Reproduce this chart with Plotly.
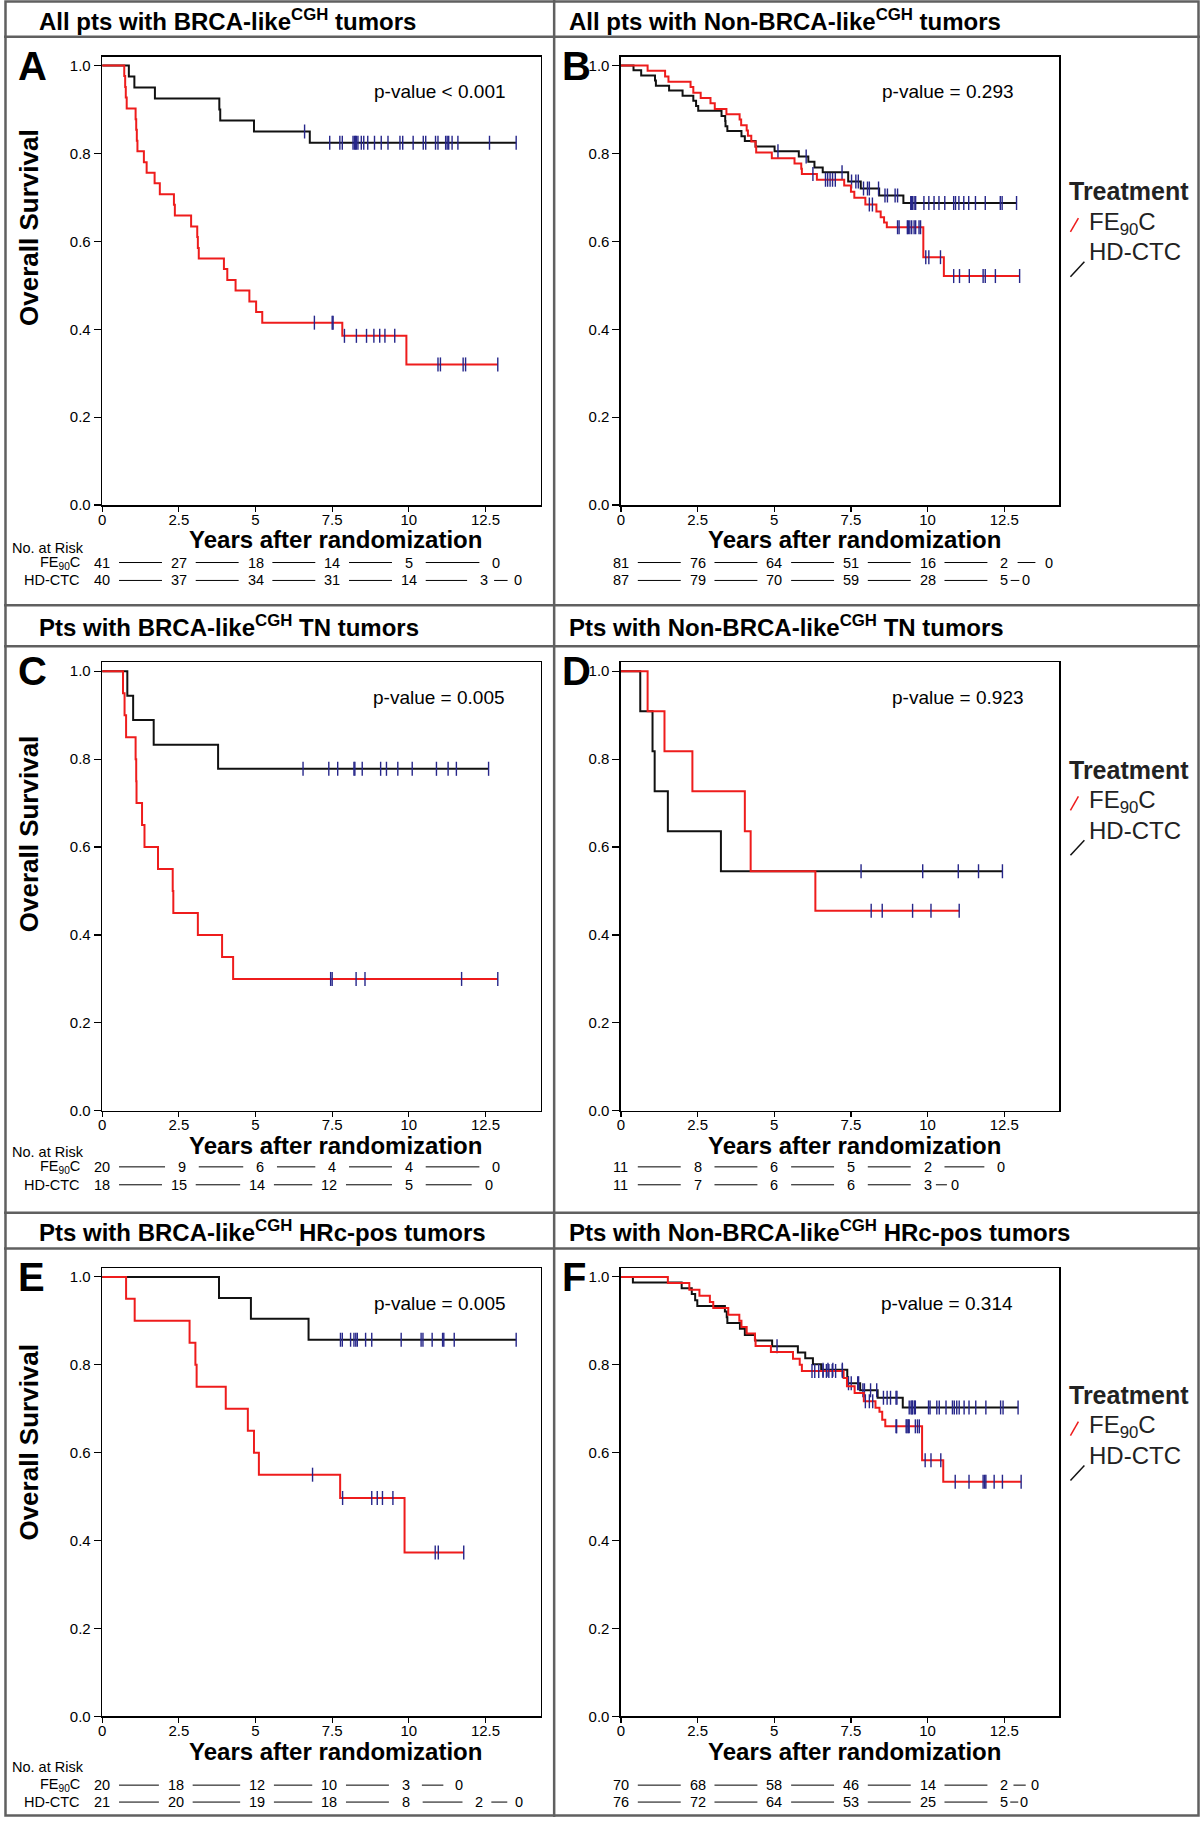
import plotly.graph_objects as go
from bisect import bisect_right

W, H = 1200, 1825
FONT = "Liberation Sans, Arial, Helvetica, sans-serif"
RED = "#ee1c1c"
BLACK = "#111111"
CENS = "#26268a"
FRAME = "#606060"

# ================= DATA =================
panel_letters = ["A", "B", "C", "D", "E", "F"]
panel_titles = [
    "All pts with BRCA-like<sup>CGH</sup> tumors",
    "All pts with Non-BRCA-like<sup>CGH</sup> tumors",
    "Pts with BRCA-like<sup>CGH</sup> TN tumors",
    "Pts with Non-BRCA-like<sup>CGH</sup> TN tumors",
    "Pts with BRCA-like<sup>CGH</sup> HRc-pos tumors",
    "Pts with Non-BRCA-like<sup>CGH</sup> HRc-pos tumors",
]
p_values = ["p-value < 0.001", "p-value = 0.293", "p-value = 0.005",
            "p-value = 0.923", "p-value = 0.005", "p-value = 0.314"]
p_value_x = [8.8, 8.45, 8.75, 8.77, 8.8, 8.42]

x_ticks = [0, 2.5, 5, 7.5, 10, 12.5]
x_ticktext = ["0", "2.5", "5", "7.5", "10", "12.5"]
y_ticks = [0, 0.2, 0.4, 0.6, 0.8, 1.0]
y_ticktext = ["0.0", "0.2", "0.4", "0.6", "0.8", "1.0"]

# ---- Panel A ----
A_fe_t = [0.72, 0.75, 0.77, 0.80, 1.09, 1.11, 1.13, 1.15, 1.36, 1.45, 1.71, 1.88, 2.34, 2.37,
          2.90, 3.10, 3.12, 3.15, 3.97, 4.08, 4.35, 4.80, 5.02, 5.22, 7.83, 9.92]
A_fe_s = [0.976, 0.951, 0.927, 0.902, 0.878, 0.854, 0.829, 0.805, 0.780, 0.756, 0.732, 0.707,
          0.683, 0.659, 0.634, 0.610, 0.585, 0.561, 0.537, 0.512, 0.488, 0.463, 0.439, 0.415,
          0.385, 0.320]
A_fe_cens = [6.92, 7.50, 7.53, 7.90, 8.29, 8.62, 8.86, 9.05, 9.22, 9.54, 10.95, 11.03, 11.77, 11.85]
A_fe_end = 12.9
A_hd_t = [0.87, 1.05, 1.72, 3.82, 3.85, 4.95, 6.77]
A_hd_s = [0.975, 0.950, 0.925, 0.900, 0.875, 0.850, 0.824]
A_hd_cens = [6.60, 7.42, 7.75, 7.83, 8.18, 8.23, 8.26, 8.29, 8.34, 8.45, 8.53, 8.66, 8.88, 9.10,
             9.32, 9.71, 9.80, 10.14, 10.47, 10.55, 10.87, 10.95, 11.20, 11.25, 11.30, 11.41,
             11.60, 12.63]
A_hd_end = 13.5

# ---- Panel B ----
B_fe_t = [0.87, 1.44, 1.55, 2.27, 2.36, 2.60, 2.92, 3.06, 3.44, 3.87, 3.92, 4.10, 4.14, 4.25,
          4.39, 4.41, 4.92, 5.66, 5.88, 5.90, 6.39, 7.28, 7.50, 7.61, 7.97, 8.33, 8.47, 8.58,
          8.67, 9.86, 10.53]
B_fe_s = [0.988, 0.975, 0.963, 0.951, 0.938, 0.926, 0.914, 0.901, 0.889, 0.877, 0.864, 0.852,
          0.840, 0.827, 0.815, 0.802, 0.789, 0.777, 0.765, 0.753, 0.740, 0.727, 0.713, 0.699,
          0.684, 0.668, 0.655, 0.643, 0.632, 0.564, 0.521]
B_fe_cens = [6.26, 6.67, 6.74, 6.82, 6.90, 6.99, 8.10, 8.20, 9.02, 9.07, 9.34, 9.37, 9.42, 9.48,
             9.56, 9.61, 9.72, 9.77, 9.94, 10.04, 10.42, 10.85, 11.04, 11.36, 11.81, 11.88, 12.21]
B_fe_end = 13.0
B_hd_t = [0.41, 0.66, 1.11, 1.14, 1.57, 2.01, 2.36, 2.45, 2.52, 3.28, 3.40, 3.41, 3.47, 3.93,
          4.04, 4.39, 5.01, 5.80, 6.11, 6.31, 6.58, 7.41, 7.82, 8.42, 9.21]
B_hd_s = [0.989, 0.977, 0.966, 0.954, 0.943, 0.931, 0.920, 0.908, 0.897, 0.885, 0.874, 0.862,
          0.851, 0.839, 0.828, 0.816, 0.805, 0.793, 0.781, 0.768, 0.757, 0.736, 0.720, 0.704,
          0.687]
B_hd_cens = [5.12, 6.04, 7.21, 7.52, 7.66, 7.74, 7.91, 8.04, 8.10, 8.40, 8.61, 8.69, 8.94, 9.02,
             9.45, 9.48, 9.50, 9.56, 9.61, 9.88, 10.04, 10.21, 10.37, 10.56, 10.85, 10.91, 11.02,
             11.18, 11.34, 11.56, 11.88, 12.37, 12.43]
B_hd_end = 12.9

# ---- Panel C ----
C_fe_t = [0.68, 0.73, 0.78, 1.09, 1.11, 1.12, 1.30, 1.38, 1.82, 2.30, 2.32, 3.12, 3.91, 4.27]
C_fe_s = [0.95, 0.90, 0.85, 0.80, 0.75, 0.70, 0.65, 0.60, 0.55, 0.50, 0.45, 0.40, 0.35, 0.30]
C_fe_cens = [7.45, 7.50, 8.28, 8.57, 11.72]
C_fe_end = 12.9
C_hd_t = [0.82, 1.01, 1.68, 3.78]
C_hd_s = [0.944, 0.889, 0.833, 0.778]
C_hd_cens = [6.55, 7.39, 7.68, 8.21, 8.24, 8.48, 9.08, 9.27, 9.64, 10.11, 10.90, 11.28, 11.55]
C_hd_end = 12.6

# ---- Panel D ----
D_fe_t = [0.87, 1.42, 2.33, 4.04, 4.23, 6.34]
D_fe_s = [0.909, 0.818, 0.727, 0.636, 0.545, 0.455]
D_fe_cens = [8.16, 8.52, 9.51, 10.11]
D_fe_end = 11.03
D_hd_t = [0.63, 1.03, 1.10, 1.53, 3.26]
D_hd_s = [0.909, 0.818, 0.727, 0.636, 0.545]
D_hd_cens = [7.83, 9.84, 11.00, 11.66]
D_hd_end = 12.44

# ---- Panel E ----
E_fe_t = [0.78, 1.06, 2.85, 3.04, 3.08, 4.03, 4.75, 4.95, 5.11, 7.76, 9.86]
E_fe_s = [0.95, 0.90, 0.85, 0.80, 0.75, 0.70, 0.65, 0.60, 0.55, 0.497, 0.373]
E_fe_cens = [6.86, 7.84, 8.79, 8.97, 9.14, 9.48, 10.86, 10.96]
E_fe_end = 11.79
E_hd_t = [3.81, 4.85, 6.73]
E_hd_s = [0.952, 0.905, 0.857]
E_hd_cens = [7.77, 7.83, 8.10, 8.21, 8.27, 8.32, 8.59, 8.79, 9.75, 10.40, 10.46, 10.76, 11.10,
             11.14, 11.48]
E_hd_end = 13.5

# ---- Panel F ----
F_fe_t = [1.53, 2.23, 2.56, 2.90, 3.01, 3.50, 3.86, 3.93, 4.10, 4.37, 4.39, 4.89, 5.61, 5.83,
          5.90, 7.26, 7.37, 7.62, 7.92, 8.30, 8.43, 8.52, 8.62, 9.82, 10.51]
F_fe_s = [0.986, 0.971, 0.957, 0.943, 0.929, 0.914, 0.900, 0.886, 0.871, 0.857, 0.843, 0.829,
          0.814, 0.800, 0.786, 0.770, 0.751, 0.736, 0.717, 0.702, 0.693, 0.675, 0.660, 0.583,
          0.534]
F_fe_cens = [6.23, 6.32, 6.45, 6.59, 6.70, 6.78, 6.89, 7.00, 7.22, 7.97, 8.10, 8.21, 8.97, 8.99,
             9.30, 9.33, 9.37, 9.40, 9.60, 9.67, 9.73, 9.92, 10.11, 10.43, 10.90, 11.35, 11.81,
             11.86, 11.90, 12.17, 12.44]
F_fe_end = 13.05
F_hd_t = [0.39, 1.98, 2.31, 2.42, 2.49, 3.39, 3.45, 3.47, 3.88, 4.04, 4.37, 4.93, 5.77, 6.01,
          6.26, 6.53, 7.38, 7.40, 7.80, 8.37, 9.19]
F_hd_s = [0.987, 0.974, 0.961, 0.947, 0.934, 0.921, 0.908, 0.895, 0.882, 0.868, 0.855, 0.842,
          0.828, 0.815, 0.801, 0.789, 0.772, 0.758, 0.742, 0.725, 0.703]
F_hd_cens = [5.09, 6.59, 6.75, 6.91, 7.22, 7.42, 7.51, 7.72, 7.75, 7.89, 7.94, 8.14, 8.34, 8.56,
             8.68, 8.79, 8.97, 9.00, 9.40, 9.46, 9.49, 9.51, 9.57, 9.60, 10.03, 10.08, 10.30,
             10.38, 10.60, 10.81, 10.87, 10.95, 11.03, 11.19, 11.35, 11.57, 11.90, 12.38, 12.46]
F_hd_end = 12.95

# ---- Numbers at risk ----
A_risk_fe = [41, 27, 18, 14, 5, 0];      A_risk_fe_t = [0, 2.5, 5, 7.5, 10, 12.85]
A_risk_hd = [40, 37, 34, 31, 14, 3, 0];  A_risk_hd_t = [0, 2.5, 5, 7.5, 10, 12.45, 13.55]
B_risk_fe = [81, 76, 64, 51, 16, 2, 0];  B_risk_fe_t = [0, 2.5, 5, 7.5, 10, 12.5, 13.95]
B_risk_hd = [87, 79, 70, 59, 28, 5, 0];  B_risk_hd_t = [0, 2.5, 5, 7.5, 10, 12.5, 13.2]
C_risk_fe = [20, 9, 6, 4, 4, 0];         C_risk_fe_t = [0, 2.6, 5.15, 7.5, 10, 12.85]
C_risk_hd = [18, 15, 14, 12, 5, 0];      C_risk_hd_t = [0, 2.5, 5.05, 7.4, 10, 12.6]
D_risk_fe = [11, 8, 6, 5, 2, 0];         D_risk_fe_t = [0, 2.5, 5, 7.5, 10, 12.4]
D_risk_hd = [11, 7, 6, 6, 3, 0];         D_risk_hd_t = [0, 2.5, 5, 7.5, 10, 10.9]
E_risk_fe = [20, 18, 12, 10, 3, 0];      E_risk_fe_t = [0, 2.4, 5.05, 7.4, 9.9, 11.65]
E_risk_hd = [21, 20, 19, 18, 8, 2, 0];   E_risk_hd_t = [0, 2.4, 5.05, 7.4, 9.9, 12.3, 13.6]
F_risk_fe = [70, 68, 58, 46, 14, 2, 0];  F_risk_fe_t = [0, 2.5, 5, 7.5, 10, 12.5, 13.5]
F_risk_hd = [76, 72, 64, 53, 25, 5, 0];  F_risk_hd_t = [0, 2.5, 5, 7.5, 10, 12.5, 13.15]

# ================= LAYOUT GEOMETRY (pixels) =================
X_RANGE = [0, 14.3]
Y_RANGE = [0, 1.02]
PX_PER_YR = 30.77
PX_PER_UNIT = 441.5
COL_LEFT = [98.5, 619.0]            # x pixel of t=0
ROW_ZERO = [507.3, 1115.7, 1724.0]  # y pixel of S=0
RISK_Y = [(550, 565, 583), (1157, 1172, 1190), (1775, 1793, 1810)]  # No.at Risk / FE / HD
XTITLE_Y = [542, 1151, 1759]
YTITLE_Y = [228, 837, 1448]
LEGEND_Y = [192, 773, 1401]
DIVIDER_X = 552


def fx(px):
    return px / W


def fy(py):
    return 1 - py / H


panels = []
for k, L in enumerate(panel_letters):
    g = globals()
    panels.append(dict(
        fe=(g[L + "_fe_t"], g[L + "_fe_s"], g[L + "_fe_cens"], g[L + "_fe_end"]),
        hd=(g[L + "_hd_t"], g[L + "_hd_s"], g[L + "_hd_cens"], g[L + "_hd_end"]),
        risk_fe=(g[L + "_risk_fe"], g[L + "_risk_fe_t"]),
        risk_hd=(g[L + "_risk_hd"], g[L + "_risk_hd_t"]),
    ))

fig = go.Figure()
annotations = []
shapes = []


def level_at(times, surv, t):
    i = bisect_right(times, t)
    return 1.0 if i == 0 else surv[i - 1]


for k, p in enumerate(panels):
    row, col = k // 2, k % 2
    ax = "" if k == 0 else str(k + 1)
    xref, yref = "x" + ax, "y" + ax
    x0 = COL_LEFT[col]
    x1 = x0 + (X_RANGE[1] - X_RANGE[0]) * PX_PER_YR
    yb = ROW_ZERO[row]
    yt = yb - (Y_RANGE[1] - Y_RANGE[0]) * PX_PER_UNIT

    axis_font = dict(family=FONT, size=15, color="black")
    fig.layout["xaxis" + ax] = dict(
        domain=[fx(x0), fx(x1)], range=X_RANGE, anchor=yref,
        tickvals=x_ticks, ticktext=x_ticktext, ticks="outside", ticklen=5,
        ticklabelstandoff=-5,
        tickwidth=1.2, tickcolor="black", showline=True, linecolor="black",
        linewidth=1.5, mirror=True, showgrid=False, zeroline=False, tickfont=axis_font)
    fig.layout["yaxis" + ax] = dict(
        domain=[fy(yb), fy(yt)], range=Y_RANGE, anchor=xref,
        tickvals=y_ticks, ticktext=y_ticktext, ticks="outside", ticklen=7,
        tickwidth=1.2, tickcolor="black", showline=True, linecolor="black",
        linewidth=1.5, mirror=True, showgrid=False, zeroline=False, tickfont=axis_font)

    # curves: HD-CTC (black) first, FE90C (red) on top
    for key, color in (("hd", BLACK), ("fe", RED)):
        times, surv, cens, end = p[key]
        xs = [0] + list(times) + [end]
        ys = [1.0] + list(surv) + [surv[-1]]
        fig.add_trace(go.Scatter(x=xs, y=ys, mode="lines", line=dict(color=color, width=2, shape="hv"),
                                 xaxis=xref, yaxis=yref, showlegend=False, hoverinfo="skip"))
        ct = list(cens) + [end]
        cy = [level_at(times, surv, t) for t in ct]
        fig.add_trace(go.Scatter(x=ct, y=cy, mode="markers",
                                 marker=dict(symbol="line-ns", size=10, line=dict(color=CENS, width=1.4)),
                                 xaxis=xref, yaxis=yref, showlegend=False, hoverinfo="skip"))

    # p-value
    annotations.append(dict(x=p_value_x[k], y=0.94, xref=xref, yref=yref, text=p_values[k],
                            showarrow=False, xanchor="left", yanchor="middle",
                            font=dict(family=FONT, size=19, color="black")))
    # panel letter
    annotations.append(dict(x=fx(12 if col == 0 else 558), y=fy(yb - PX_PER_UNIT), xref="paper",
                            yref="paper", text="<b>%s</b>" % panel_letters[k], showarrow=False,
                            xanchor="left", yanchor="middle",
                            font=dict(family=FONT, size=40, color="black")))
    # x-axis title
    annotations.append(dict(x=fx((x0 + x1) / 2 + 14), y=fy(XTITLE_Y[row]), xref="paper", yref="paper",
                            text="<b>Years after randomization</b>", showarrow=False,
                            xanchor="center", yanchor="middle",
                            font=dict(family=FONT, size=24, color="black")))
    # numbers at risk
    ry_nr, ry_fe, ry_hd = RISK_Y[row]
    for (vals, ts), ypx in ((p["risk_fe"], ry_fe), (p["risk_hd"], ry_hd)):
        for v, t in zip(vals, ts):
            annotations.append(dict(x=t, y=fy(ypx), xref=xref, yref="paper", text=str(v),
                                    showarrow=False, xanchor="center", yanchor="middle",
                                    font=dict(family=FONT, size=14.5, color="black")))
        for a, b in zip(ts[:-1], ts[1:]):
            gap = min(0.55, 0.3 * (b - a))
            shapes.append(dict(type="line", xref=xref, yref="paper", x0=a + gap, x1=b - gap,
                               y0=fy(ypx), y1=fy(ypx), line=dict(color="black", width=1)))
    if col == 0:
        annotations.append(dict(x=fx(6), y=fy(ry_nr), xref="paper", yref="paper",
                                text="No. at Risk", showarrow=False, xanchor="left", yanchor="middle",
                                font=dict(family=FONT, size=14.5, color="black")))
        annotations.append(dict(x=fx(78), y=fy(ry_fe), xref="paper", yref="paper",
                                text="FE<sub>90</sub>C", showarrow=False, xanchor="right", yanchor="middle",
                                font=dict(family=FONT, size=14.5, color="black")))
        annotations.append(dict(x=fx(78), y=fy(ry_hd), xref="paper", yref="paper",
                                text="HD-CTC", showarrow=False, xanchor="right", yanchor="middle",
                                font=dict(family=FONT, size=14.5, color="black")))
        # y-axis title
        annotations.append(dict(x=fx(25), y=fy(YTITLE_Y[row]), xref="paper", yref="paper",
                                text="<b>Overall Survival</b>", textangle=-90, showarrow=False,
                                xanchor="center", yanchor="middle",
                                font=dict(family=FONT, size=26, color="black")))

# panel titles
title_y = [20, 629, 1236]
for k, t in enumerate(panel_titles):
    row, col = k // 2, k % 2
    annotations.append(dict(x=fx(33 if col == 0 else 565), y=fy(title_y[row]), xref="paper", yref="paper",
                            text="<b>%s</b>" % t, showarrow=False, xanchor="left", yanchor="middle",
                            font=dict(family=FONT, size=24, color="black")))

# legends (right column)
for ly in LEGEND_Y:
    annotations.append(dict(x=fx(1067), y=fy(ly), xref="paper", yref="paper",
                            text="<b>Treatment</b>", showarrow=False, xanchor="left", yanchor="middle",
                            font=dict(family=FONT, size=25, color="#222222")))
    annotations.append(dict(x=fx(1087), y=fy(ly + 32), xref="paper", yref="paper",
                            text="FE<sub>90</sub>C", showarrow=False, xanchor="left", yanchor="middle",
                            font=dict(family=FONT, size=24, color="#222222")))
    annotations.append(dict(x=fx(1087), y=fy(ly + 61), xref="paper", yref="paper",
                            text="HD-CTC", showarrow=False, xanchor="left", yanchor="middle",
                            font=dict(family=FONT, size=24, color="#222222")))
    shapes.append(dict(type="line", xref="paper", yref="paper", x0=fx(1070), y0=fy(ly + 41),
                       x1=fx(1078), y1=fy(ly + 27), line=dict(color=RED, width=1.5)))
    shapes.append(dict(type="line", xref="paper", yref="paper", x0=fx(1070), y0=fy(ly + 86),
                       x1=fx(1084), y1=fy(ly + 71), line=dict(color=BLACK, width=1.5)))

# frame lines
for ypx in (37, 608, 649, 1218, 1254):
    shapes.append(dict(type="line", xref="paper", yref="paper", x0=0, x1=1, y0=fy(ypx), y1=fy(ypx),
                       line=dict(color=FRAME, width=2.5)))
shapes.append(dict(type="line", xref="paper", yref="paper", x0=fx(DIVIDER_X), x1=fx(DIVIDER_X), y0=0, y1=1,
                   line=dict(color=FRAME, width=2.5)))
shapes.append(dict(type="rect", xref="paper", yref="paper", x0=fx(1.5), x1=fx(1198.5), y0=fy(1823.5),
                   y1=fy(1.5), line=dict(color=FRAME, width=2.5)))

fig.update_layout(width=W, height=H, margin=dict(l=0, r=0, t=0, b=0),
                  paper_bgcolor="white", plot_bgcolor="white", showlegend=False,
                  annotations=annotations, shapes=shapes)

fig.write_html("out.html", config={"displayModeBar": False, "staticPlot": True},
               post_script="document.body.style.margin='0';document.body.style.padding='0';"
                           "document.body.style.overflow='hidden';")
